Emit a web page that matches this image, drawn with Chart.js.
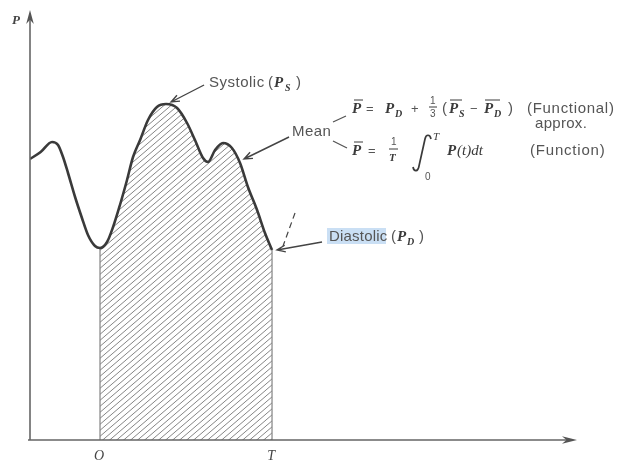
<!DOCTYPE html>
<html>
<head>
<meta charset="utf-8">
<script src="https://cdn.jsdelivr.net/npm/chart.js@4/dist/chart.umd.min.js"></script>
<style>
  html, body { margin: 0; padding: 0; background: #fff; }
  canvas { display: block; }
</style>
</head>
<body>
<canvas id="chart" width="621" height="461"></canvas>
<script>
// Arterial pressure wave: time t (cycle runs from O = 0 to T = 100) against pressure P
const timeT = [-40.7, -34.5, -27.9, -24.4, -21.5, -18.6, -14.5, -10.5, -7.0, -2.9,
               0, 4.1, 7.6, 11.6, 15.7, 19.2, 23.3, 27.9, 33.1, 38.4, 44.8, 50.6, 55.2,
               59.9, 62.8, 66.9, 71.5, 76.7, 81.4, 86.0, 91.3, 95.9, 100];
const pressureP = [70.25, 72, 74.5, 73.75, 70.75, 66.75, 60.75, 55.5, 51.25, 48.5,
                   48, 49.5, 53.25, 58.75, 65, 70.75, 75, 80, 83.25, 84, 83, 79.25, 75,
                   70.5, 69.5, 72.5, 74.25, 73, 69.25, 63.25, 57.5, 51.75, 47.5];

// One cardiac period, shaded under the curve
const cycleStart = 0;
const cycleEnd = 100;

// Axis labels
const axisNameY = 'P';
const tickLabels = ['O', 'T'];
const tickValues = [cycleStart, cycleEnd];

// Axis ranges
const xRange = [-40.7, 277.3];
const yRange = [0, 107.5];

const curvePoints = timeT.map((t, i) => ({ x: t, y: pressureP[i] }));
const cyclePoints = curvePoints.filter(p => p.x >= cycleStart && p.x <= cycleEnd);
const startP = cyclePoints[0].y;
const endP = cyclePoints[cyclePoints.length - 1].y;

// Landmarks picked from the data
const systolicPt = curvePoints.reduce((a, b) => (b.y > a.y ? b : a));
const diastolicPt = cyclePoints[cyclePoints.length - 1];
const meanArrowPt = curvePoints[timeT.indexOf(81.4)];

function hatchPattern() {
  const w = 7, h = 6;
  const c = document.createElement('canvas');
  c.width = w; c.height = h;
  const g = c.getContext('2d');
  g.strokeStyle = '#858585';
  g.lineWidth = 1;
  for (let k = -1; k <= 1; k++) {
    g.beginPath();
    g.moveTo(k * w - w, 2 * h);
    g.lineTo((k + 2) * w, -h);
    g.stroke();
  }
  return g.createPattern(c, 'repeat');
}

const INK = '#3a3a3a';
const TEXT = '#555555';
const SANS = '"Liberation Sans", Arial, sans-serif';
const SERIF = '"Liberation Serif", "Times New Roman", serif';

function openArrow(ctx, tail, tip, len = 9, spread = 0.38) {
  const ang = Math.atan2(tip.y - tail.y, tip.x - tail.x);
  ctx.beginPath();
  ctx.moveTo(tail.x, tail.y);
  ctx.lineTo(tip.x, tip.y);
  ctx.moveTo(tip.x - len * Math.cos(ang - spread), tip.y - len * Math.sin(ang - spread));
  ctx.lineTo(tip.x, tip.y);
  ctx.lineTo(tip.x - len * Math.cos(ang + spread), tip.y - len * Math.sin(ang + spread));
  ctx.stroke();
}

function solidArrowHead(ctx, tip, ang, len, half) {
  const bx = tip.x - len * Math.cos(ang), by = tip.y - len * Math.sin(ang);
  const nx = -Math.sin(ang), ny = Math.cos(ang);
  const mx = tip.x - len * 0.7 * Math.cos(ang), my = tip.y - len * 0.7 * Math.sin(ang);
  ctx.beginPath();
  ctx.moveTo(tip.x, tip.y);
  ctx.lineTo(bx + nx * half, by + ny * half);
  ctx.lineTo(mx, my);
  ctx.lineTo(bx - nx * half, by - ny * half);
  ctx.closePath();
  ctx.fill();
}

function txt(ctx, s, x, y, font, color, spacing) {
  ctx.font = font;
  ctx.fillStyle = color || TEXT;
  ctx.letterSpacing = spacing || '0px';
  ctx.fillText(s, x, y);
  ctx.letterSpacing = '0px';
}

function bar(ctx, x1, x2, y) {
  ctx.beginPath();
  ctx.moveTo(x1, y);
  ctx.lineTo(x2, y);
  ctx.stroke();
}

const diagram = {
  id: 'diagram',
  afterDatasetsDraw(chart) {
    const { ctx, chartArea: a, scales: { x, y } } = chart;
    const px = p => ({ x: x.getPixelForValue(p.x), y: y.getPixelForValue(p.y) });
    ctx.save();
    ctx.textBaseline = 'alphabetic';
    ctx.lineCap = 'butt';

    // axes with arrow heads
    ctx.strokeStyle = '#666';
    ctx.fillStyle = '#555';
    ctx.lineWidth = 1.6;
    ctx.beginPath();
    ctx.moveTo(a.left, a.bottom);
    ctx.lineTo(a.left, a.top + 8);
    ctx.moveTo(a.left - 2, a.bottom);
    ctx.lineTo(a.right - 8, a.bottom);
    ctx.stroke();
    solidArrowHead(ctx, { x: a.left, y: a.top }, -Math.PI / 2, 14, 3.8);
    solidArrowHead(ctx, { x: a.right, y: a.bottom }, 0, 15, 3.8);

    // axis labels
    txt(ctx, axisNameY, 12, 24, 'italic bold 13px ' + SERIF, '#444');
    ctx.textAlign = 'center';
    tickValues.forEach((v, i) => {
      txt(ctx, tickLabels[i], x.getPixelForValue(v) - 1, a.bottom + 20, 'italic 14px ' + SERIF, '#444');
    });
    ctx.textAlign = 'left';

    // pointer arrows
    ctx.strokeStyle = '#444';
    ctx.lineWidth = 1.4;
    const sTip = px(systolicPt); sTip.x += 5; sTip.y -= 2;
    openArrow(ctx, { x: sTip.x + 33, y: sTip.y - 17 }, sTip);
    const mTip = px(meanArrowPt); mTip.x += 4; mTip.y -= 4;
    openArrow(ctx, { x: mTip.x + 45, y: mTip.y - 22 }, mTip);
    const dTip = px(diastolicPt); dTip.x += 5;
    openArrow(ctx, { x: dTip.x + 45, y: dTip.y - 8 }, dTip);

    // dashed tick above the diastolic point
    ctx.setLineDash([6, 4]);
    ctx.lineWidth = 1.2;
    ctx.beginPath();
    ctx.moveTo(dTip.x + 18, dTip.y - 37);
    ctx.lineTo(dTip.x + 6, dTip.y - 4);
    ctx.stroke();
    ctx.setLineDash([]);

    const sans = '15px ' + SANS;
    const it = 'italic bold 15px ' + SERIF;
    const sub = 'italic bold 10px ' + SERIF;
    const small = '10px ' + SANS;

    // Systolic (P_S)
    txt(ctx, 'Systolic', 209, 87, sans, TEXT, '0.5px');
    txt(ctx, '(', 268, 87, sans);
    txt(ctx, 'P', 274, 87, it, INK);
    txt(ctx, 'S', 285, 91, sub, INK);
    txt(ctx, ')', 296, 87, sans);

    // Mean with its two branches
    txt(ctx, 'Mean', 292, 136, sans, TEXT, '0.4px');
    ctx.lineWidth = 1.3;
    ctx.strokeStyle = '#555';
    ctx.beginPath();
    ctx.moveTo(333, 122); ctx.lineTo(346, 116);
    ctx.moveTo(333, 141); ctx.lineTo(347, 148);
    ctx.stroke();

    // first formula: P = P_D + 1/3 (P_S - P_D)
    ctx.lineWidth = 1;
    ctx.strokeStyle = INK;
    txt(ctx, 'P', 352, 113, it, INK);
    bar(ctx, 354, 363, 100);
    txt(ctx, '=', 366, 113, '13px ' + SANS);
    txt(ctx, 'P', 385, 113, it, INK);
    txt(ctx, 'D', 395, 117, sub, INK);
    txt(ctx, '+', 411, 113, '13px ' + SANS);
    txt(ctx, '1', 430, 104, small);
    bar(ctx, 429, 437, 107);
    txt(ctx, '3', 430, 117, small);
    txt(ctx, '(', 442, 113, sans);
    txt(ctx, 'P', 449, 113, it, INK);
    txt(ctx, 'S', 459, 117, sub, INK);
    bar(ctx, 450, 462, 100);
    txt(ctx, '\u2212', 470, 113, '13px ' + SANS);
    txt(ctx, 'P', 484, 113, it, INK);
    txt(ctx, 'D', 494, 117, sub, INK);
    bar(ctx, 485, 500, 100);
    txt(ctx, ')', 508, 113, sans);
    txt(ctx, '(Functional)', 527, 113, sans, TEXT, '0.7px');
    txt(ctx, 'approx.', 535, 128, sans, TEXT, '0.3px');

    // second formula: P = 1/T ∫0^T P(t) dt
    txt(ctx, 'P', 352, 155, it, INK);
    bar(ctx, 354, 363, 142);
    txt(ctx, '=', 368, 155, '13px ' + SANS);
    txt(ctx, '1', 391, 145, small);
    bar(ctx, 389, 398, 149);
    txt(ctx, 'T', 389, 161, 'italic bold 11px ' + SERIF, INK);
    ctx.lineWidth = 1.7;
    ctx.beginPath();
    ctx.moveTo(431, 139);
    ctx.bezierCurveTo(430, 134, 426, 134, 425, 139);
    ctx.lineTo(419, 166);
    ctx.bezierCurveTo(418, 172, 414, 172, 413, 167);
    ctx.stroke();
    txt(ctx, 'T', 433, 140, 'italic 11px ' + SERIF, INK);
    txt(ctx, '0', 425, 180, small);
    txt(ctx, 'P', 447, 155, it, INK);
    txt(ctx, '(t)dt', 457, 155, 'italic 15px ' + SERIF, INK);
    txt(ctx, '(Function)', 530, 155, sans, TEXT, '0.8px');

    // Diastolic (P_D), with its text highlight
    ctx.fillStyle = 'rgba(184, 212, 240, 0.75)';
    ctx.fillRect(327, 228, 59, 16);
    txt(ctx, 'Diastolic', 329, 241, sans, TEXT, '0.2px');
    txt(ctx, '(', 391, 241, sans);
    txt(ctx, 'P', 397, 241, it, INK);
    txt(ctx, 'D', 407, 245, sub, INK);
    txt(ctx, ')', 419, 241, sans);

    ctx.restore();
  }
};

const monotone = { cubicInterpolationMode: 'monotone', pointRadius: 0 };

new Chart(document.getElementById('chart'), {
  type: 'line',
  data: {
    datasets: [
      Object.assign({
        label: 'P(t)',
        data: curvePoints,
        borderColor: '#3a3a3a',
        borderWidth: 2.6,
        fill: false
      }, monotone),
      Object.assign({
        label: 'cycle area',
        data: cyclePoints,
        borderWidth: 0,
        borderColor: 'rgba(0,0,0,0)',
        backgroundColor: hatchPattern(),
        fill: 'origin'
      }, monotone),
      {
        label: 'start edge',
        data: [{ x: cycleStart, y: 0 }, { x: cycleStart, y: startP }],
        borderColor: '#777',
        borderWidth: 1.1,
        pointRadius: 0,
        tension: 0
      },
      {
        label: 'end edge',
        data: [{ x: cycleEnd, y: 0 }, { x: cycleEnd, y: endP }],
        borderColor: '#777',
        borderWidth: 1.1,
        pointRadius: 0,
        tension: 0
      }
    ]
  },
  options: {
    responsive: false,
    animation: false,
    devicePixelRatio: 1,
    layout: { padding: { left: 30, right: 44, top: 10, bottom: 21 } },
    scales: {
      x: { type: 'linear', min: xRange[0], max: xRange[1], display: false },
      y: { type: 'linear', min: yRange[0], max: yRange[1], display: false }
    },
    plugins: { legend: { display: false }, tooltip: { enabled: false } }
  },
  plugins: [diagram]
});
</script>
</body>
</html>
